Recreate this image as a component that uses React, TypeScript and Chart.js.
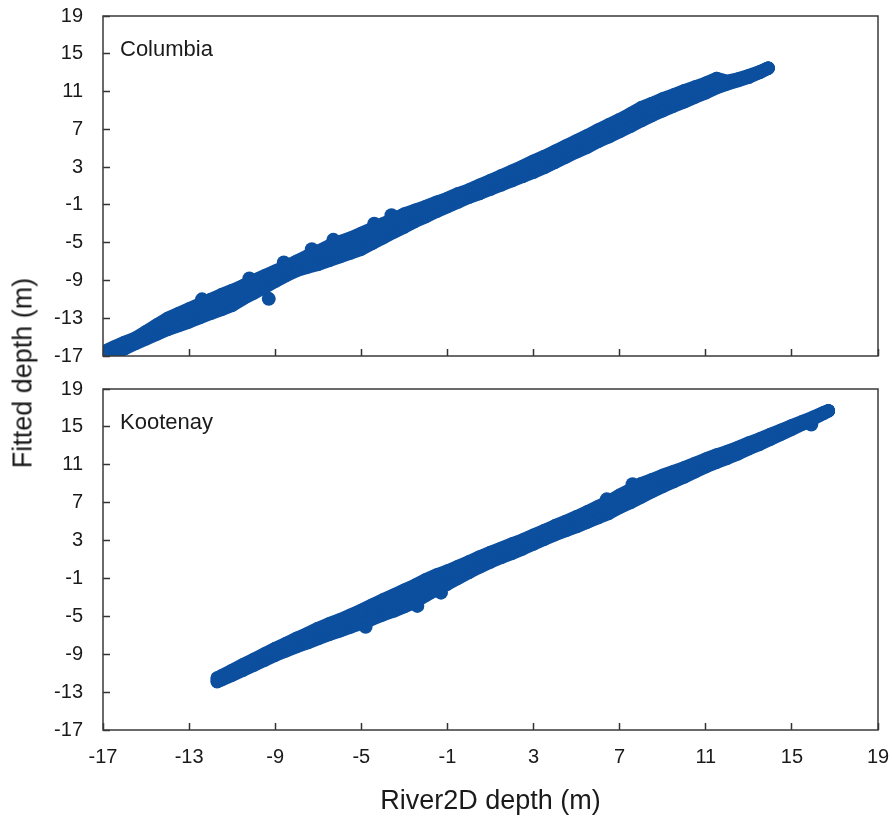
import React, { useEffect, useRef } from 'react';
import { Chart, registerables } from 'chart.js';
Chart.register(...registerables);

// Axis settings (shared by both panels)
const AXIS_MIN = -17;
const AXIS_MAX = 19;
const AXIS_STEP = 4;
const X_TITLE = 'River2D depth (m)';
const Y_TITLE = 'Fitted depth (m)';
const PANEL_LABELS = ['Columbia', 'Kootenay'];

// Columbia: dense scatter band, read as upper / middle / lower part of the cloud
const columbiaX = [-17, -16.5, -16, -15.5, -15, -14.5, -14, -13.5, -13, -12.5, -12, -11.5, -11, -10.5, -10, -9.5, -9, -8.5, -8, -7.5, -7, -6.5, -6, -5.5, -5, -4.5, -4, -3.5, -3, -2.5, -2, -1.5, -1, -0.5, 0, 0.5, 1, 1.5, 2, 2.5, 3, 3.5, 4, 4.5, 5, 5.5, 6, 6.5, 7, 7.5, 8, 8.5, 9, 9.5, 10, 10.5, 11, 11.5, 12, 12.5, 13, 13.5, 13.9];
const columbiaHi = [-16.55, -16.05, -15.55, -15.1, -14.4, -13.7, -13.0, -12.5, -12.0, -11.5, -11.0, -10.5, -10.05, -9.55, -9.0, -8.5, -8.0, -7.5, -6.95, -6.4, -5.9, -5.35, -4.9, -4.5, -4.0, -3.5, -3.0, -2.5, -1.95, -1.55, -1.15, -0.7, -0.3, 0.2, 0.6, 1.1, 1.6, 2.1, 2.6, 3.1, 3.65, 4.15, 4.7, 5.25, 5.8, 6.35, 6.95, 7.5, 8.05, 8.65, 9.3, 9.75, 10.25, 10.65, 11.1, 11.5, 11.9, 12.4, 12.1, 12.35, 12.7, 13.1, 13.5];
const columbiaMid = [-16.9, -16.4, -15.9, -15.4, -14.8, -14.2, -13.6, -13.15, -12.7, -12.25, -11.75, -11.3, -10.85, -10.25, -9.7, -9.15, -8.55, -8.0, -7.45, -7.0, -6.6, -6.15, -5.7, -5.3, -4.85, -4.3, -3.75, -3.2, -2.65, -2.15, -1.7, -1.2, -0.75, -0.25, 0.2, 0.65, 1.15, 1.6, 2.1, 2.55, 3.05, 3.55, 4.1, 4.65, 5.2, 5.75, 6.3, 6.85, 7.4, 8.0, 8.6, 9.1, 9.6, 10.05, 10.5, 10.95, 11.3, 11.9, 11.95, 12.25, 12.6, 13.05, 13.5];
const columbiaLo = [-17.25, -16.75, -16.25, -15.7, -15.2, -14.7, -14.2, -13.8, -13.4, -12.95, -12.5, -12.1, -11.65, -10.95, -10.35, -9.75, -9.1, -8.5, -7.95, -7.6, -7.3, -6.9, -6.5, -6.1, -5.7, -5.1, -4.5, -3.9, -3.35, -2.75, -2.25, -1.7, -1.2, -0.7, -0.2, 0.2, 0.65, 1.1, 1.55, 2.0, 2.45, 2.95, 3.5, 4.05, 4.6, 5.1, 5.7, 6.2, 6.75, 7.3, 7.9, 8.45, 8.95, 9.45, 9.9, 10.4, 10.85, 11.4, 11.8, 12.15, 12.5, 13.0, 13.45];
const columbiaOutX = [-12.4, -10.2, -9.3, -8.6, -7.3, -6.3, -4.4, -3.6];
const columbiaOutY = [-11.0, -8.8, -10.95, -7.1, -5.7, -4.7, -3.0, -2.1];

// Kootenay
const kootenayX = [-11.7, -11.5, -11, -10.5, -10, -9.5, -9, -8.5, -8, -7.5, -7, -6.5, -6, -5.5, -5, -4.5, -4, -3.5, -3, -2.5, -2, -1.5, -1, -0.5, 0, 0.5, 1, 1.5, 2, 2.5, 3, 3.5, 4, 4.5, 5, 5.5, 6, 6.5, 7, 7.5, 8, 8.5, 9, 9.5, 10, 10.5, 11, 11.5, 12, 12.5, 13, 13.5, 14, 14.5, 15, 15.5, 16, 16.5, 16.7];
const kootenayHi = [-11.49, -11.28, -10.68, -10.1, -9.53, -8.95, -8.38, -7.85, -7.3, -6.8, -6.25, -5.77, -5.35, -4.85, -4.35, -3.8, -3.25, -2.75, -2.22, -1.7, -1.1, -0.62, -0.2, 0.28, 0.78, 1.3, 1.77, 2.2, 2.65, 3.08, 3.58, 4.08, 4.58, 5.05, 5.53, 6.06, 6.6, 7.13, 7.81, 8.4, 9.02, 9.45, 9.9, 10.3, 10.7, 11.16, 11.62, 12.05, 12.42, 12.85, 13.32, 13.75, 14.22, 14.68, 15.15, 15.6, 16.05, 16.55, 16.7];
const kootenayMid = [-11.7, -11.5, -10.95, -10.4, -9.85, -9.3, -8.75, -8.25, -7.75, -7.3, -6.8, -6.35, -5.95, -5.5, -5.05, -4.55, -4.05, -3.6, -3.1, -2.6, -1.95, -1.4, -0.9, -0.35, 0.2, 0.75, 1.25, 1.7, 2.15, 2.6, 3.1, 3.6, 4.1, 4.55, 5.0, 5.5, 6.0, 6.5, 7.15, 7.7, 8.3, 8.8, 9.3, 9.75, 10.2, 10.7, 11.2, 11.65, 12.05, 12.5, 13.0, 13.45, 13.95, 14.45, 14.95, 15.45, 15.95, 16.5, 16.7];
const kootenayLo = [-11.91, -11.72, -11.22, -10.7, -10.17, -9.65, -9.12, -8.65, -8.2, -7.8, -7.35, -6.93, -6.55, -6.15, -5.75, -5.3, -4.85, -4.45, -3.98, -3.5, -2.8, -2.18, -1.6, -0.98, -0.38, 0.2, 0.73, 1.2, 1.65, 2.12, 2.62, 3.12, 3.62, 4.05, 4.47, 4.94, 5.4, 5.87, 6.49, 7.0, 7.58, 8.15, 8.7, 9.2, 9.7, 10.24, 10.78, 11.25, 11.68, 12.15, 12.68, 13.15, 13.68, 14.22, 14.75, 15.3, 15.85, 16.45, 16.7];
const kootenayOutX = [6.4, 15.9, -2.4, -4.8, -1.3, 7.6];
const kootenayOutY = [7.35, 15.25, -3.9, -6.1, -2.5, 8.95];

const BLUE = '#0c4f9f';
const TEXT = '#1a1a1a';
const FONT = '"Liberation Sans", Arial, Helvetica, sans-serif';

type Pt = { x: number; y: number };

function rowPoints(xs: number[], ys: number[]): Pt[] {
  return xs.map((x, i) => ({ x, y: ys[i] }));
}

const framePlugin = {
  id: 'frame',
  afterDatasetsDraw(chart: any, _args: any, opts: any) {
    const { ctx, chartArea } = chart;
    const { left, top, right, bottom } = chartArea;
    ctx.save();
    ctx.strokeStyle = '#3a3a3a';
    ctx.lineWidth = 1.5;
    ctx.strokeRect(left, top, right - left, bottom - top);
    ctx.fillStyle = TEXT;
    ctx.font = `22px ${FONT}`;
    ctx.textBaseline = 'middle';
    ctx.textAlign = 'left';
    ctx.fillText(opts.label, left + 17, top + 34);
    ctx.restore();
  },
};

type PanelProps = {
  height: number;
  top: number;
  padTop: number;
  axisH: number;
  showX: boolean;
  label: string;
  rows: Pt[][];
  outliers: Pt[];
};

function Panel({ height, top, padTop, axisH, showX, label, rows, outliers }: PanelProps) {
  const ref = useRef<HTMLCanvasElement | null>(null);
  useEffect(() => {
    if (!ref.current) return;
    const tickFont = { family: FONT, size: 20 };
    const bandSets = rows.map((data) => ({
      data,
      showLine: true,
      borderColor: BLUE,
      borderWidth: 13,
      borderCapStyle: 'round',
      borderJoinStyle: 'round',
      pointRadius: 6.5,
      pointHoverRadius: 6.5,
      pointBackgroundColor: BLUE,
      pointBorderWidth: 0,
      clip: 0,
    }));
    const chart = new Chart(ref.current, {
      type: 'scatter',
      data: {
        datasets: [
          ...bandSets,
          {
            data: outliers,
            pointRadius: 7,
            pointHoverRadius: 7,
            pointBackgroundColor: BLUE,
            pointBorderWidth: 0,
            clip: 0,
          },
        ] as any,
      },
      options: {
        responsive: false,
        animation: false,
        events: [],
        layout: { autoPadding: false, padding: { left: 0, right: 14, top: padTop, bottom: 0 } },
        plugins: {
          legend: { display: false },
          tooltip: { enabled: false },
          frame: { label },
        } as any,
        scales: {
          x: {
            type: 'linear',
            min: AXIS_MIN,
            max: AXIS_MAX,
            ticks: {
              stepSize: AXIS_STEP,
              display: showX,
              padding: 22,
              font: tickFont,
              color: TEXT,
              autoSkip: false,
              maxRotation: 0,
              callback: (v: any) => String(v),
            },
            grid: {
              drawOnChartArea: false,
              drawTicks: true,
              tickLength: -7,
              tickColor: '#333',
              tickWidth: 1.5,
            },
            border: { display: false },
            title: {
              display: showX,
              text: X_TITLE,
              font: { family: FONT, size: 27 },
              color: TEXT,
              padding: { top: 0, bottom: 3 },
            },
            afterFit: (s: any) => {
              s.height = axisH;
              s.paddingLeft = 0;
              s.paddingRight = 0;
            },
          },
          y: {
            type: 'linear',
            min: AXIS_MIN,
            max: AXIS_MAX,
            ticks: {
              stepSize: AXIS_STEP,
              padding: 27,
              font: tickFont,
              color: TEXT,
              autoSkip: false,
              callback: (v: any) => String(v),
            },
            grid: {
              drawOnChartArea: false,
              drawTicks: true,
              tickLength: -7,
              tickColor: '#333',
              tickWidth: 1.5,
            },
            border: { display: false },
            afterFit: (s: any) => {
              s.width = 103;
              s.paddingTop = 0;
              s.paddingBottom = 0;
            },
          },
        } as any,
      },
      plugins: [framePlugin],
    });
    return () => chart.destroy();
  }, []);
  return (
    <canvas
      ref={ref}
      width={892}
      height={height}
      style={{ position: 'absolute', left: 0, top, display: 'block' }}
    />
  );
}

export default function App() {
  const colRows = [columbiaHi, columbiaMid, columbiaLo].map((ys) => rowPoints(columbiaX, ys));
  const kooRows = [kootenayHi, kootenayMid, kootenayLo].map((ys) => rowPoints(kootenayX, ys));
  const colOut = rowPoints(columbiaOutX, columbiaOutY);
  const kooOut = rowPoints(kootenayOutX, kootenayOutY);
  return (
    <div style={{ position: 'absolute', left: 0, top: 0, width: 892, height: 821, background: '#fff', overflow: 'hidden' }}>
      <Panel height={370} top={0} padTop={16} axisH={14} showX={false} label={PANEL_LABELS[0]} rows={colRows} outliers={colOut} />
      <Panel height={451} top={370} padTop={19} axisH={91} showX={true} label={PANEL_LABELS[1]} rows={kooRows} outliers={kooOut} />
      <div
        style={{
          position: 'absolute',
          left: 23,
          top: 373,
          transform: 'translate(-50%, -50%) rotate(-90deg)',
          font: `27px ${FONT}`,
          whiteSpace: 'nowrap',
          color: TEXT,
        }}
      >
        {Y_TITLE}
      </div>
    </div>
  );
}
